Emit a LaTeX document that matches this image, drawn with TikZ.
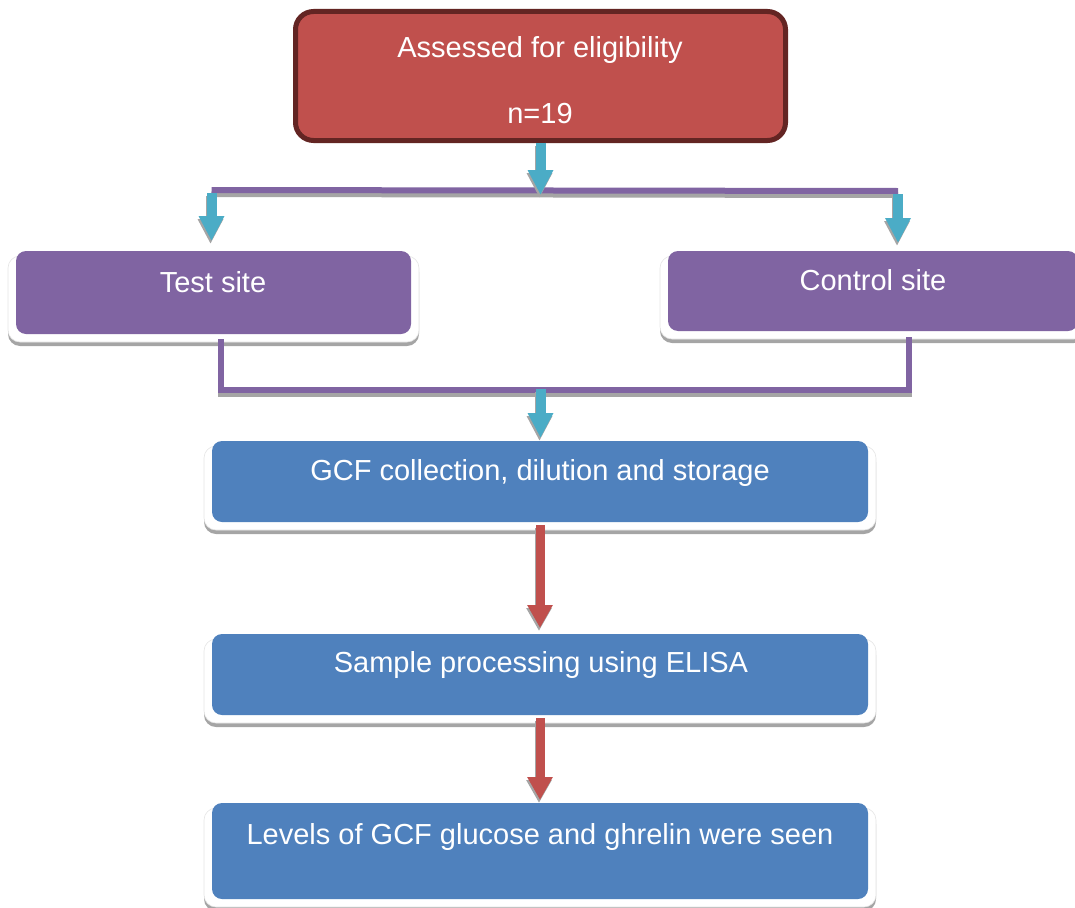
\documentclass[tikz,border=0pt]{standalone}
\usepackage{fontspec}
\setmainfont{Liberation Sans}
\usetikzlibrary{arrows.meta,backgrounds}
\definecolor{cred}{HTML}{C0504D}
\definecolor{cdark}{HTML}{632523}
\definecolor{cpurple}{HTML}{8064A2}
\definecolor{cblue}{HTML}{4F81BD}
\definecolor{ccyan}{HTML}{4BACC6}
\definecolor{cshadow}{HTML}{A5A5A5}
\newcommand{\shadowed}[3]{%
  \draw[#1,draw=cshadow,transform canvas={#2}] #3;
  \draw[#1] #3;}
\begin{document}
\begin{tikzpicture}[x=1pt,y=-1pt,
  box/.style={rectangle, rounded corners=10pt, inner sep=0pt, outer sep=0pt},
  txt/.style={anchor=base, text=white, font=\fontsize{29}{35}\selectfont, inner sep=0pt},
  carrow/.style={draw=ccyan, line width=10pt, -{Triangle[width=24pt,length=25pt]}},
  rarrow/.style={draw=cred, line width=9pt, -{Triangle[width=24pt,length=23pt]}},
  pline/.style={draw=cpurple, line width=6pt},
  frameshadow/.style={fill=cshadow, rounded corners=12pt},
  framewhite/.style={fill=white, draw=black!10, line width=0.6pt, rounded corners=12pt},
]
\useasboundingbox (0,0) rectangle (1075,907);

% boxes
\node[box, draw=cdark, line width=5pt, fill=cred, rounded corners=18pt,
      minimum width=490pt, minimum height=129pt] (top) at (540.5,76) {};
\node[box, fill=cpurple, minimum width=395pt, minimum height=83pt] (test) at (213.5,292.5) {};
\node[box, fill=cpurple, minimum width=410pt, minimum height=80pt] (control) at (873,291) {};
\node[box, fill=cblue, minimum width=656pt, minimum height=81pt] (gcf) at (540,481.5) {};
\node[box, fill=cblue, minimum width=656pt, minimum height=81pt] (sample) at (540,674.5) {};
\node[box, fill=cblue, minimum width=656pt, minimum height=96pt] (levels) at (540,851) {};

% white frames with shadows behind the boxes
\begin{scope}[on background layer]
  \foreach \b in {test,control,gcf,sample,levels}{
    \fill[frameshadow] ([xshift=-8pt,yshift=-9pt]\b.north west) rectangle ([xshift=8pt,yshift=-12pt]\b.south east);
    \filldraw[framewhite] ([xshift=-8pt,yshift=-5pt]\b.north west) rectangle ([xshift=8pt,yshift=-8pt]\b.south east);
  }
\end{scope}

% texts
\node[txt] (t1) at (540,57) {Assessed for eligibility};
\node[txt] (t2) at (540,123) {n=19};
\node[txt] (t3) at (213,292) {Test site};
\node[txt] (t4) at (873,290) {Control site};
\node[txt] (t5) at (540,480) {GCF collection, dilution and storage};
\node[txt] (t6) at (541,672) {Sample processing using ELISA};
\node[txt] (t7) at (540,844) {Levels of GCF glucose and ghrelin were seen};

% junction coordinates
\coordinate (L1) at (211.5,190);
\coordinate (R1) at (898,191);
\coordinate (j1) at (540.5,195);
\coordinate (tb) at (221,339);
\coordinate (cb) at (909,337);
\coordinate (j2) at (540.5,390);

% upper distribution line
\shadowed{pline}{yshift=-4pt}{(L1) -- (R1)}
% arrows to the sites
\shadowed{carrow,shorten >=10pt}{xshift=-1pt,yshift=-3pt}{([yshift=-3pt]L1) -- (L1 |- test.north)}
\shadowed{carrow,shorten >=8pt}{xshift=-1pt,yshift=-3pt}{([yshift=-3pt]R1) -- (R1 |- control.north)}
% arrow from top box
\shadowed{carrow,shorten <=2pt}{xshift=-1pt,yshift=-3pt}{(top.south -| j1) -- (j1)}

% lower merging line
\shadowed{pline}{yshift=-4pt}{(tb) |- (j2) -| (cb)}
\shadowed{carrow,shorten >=3pt}{xshift=-1pt,yshift=-3pt}{([yshift=1pt]j2) -- (j2 |- gcf.north)}

% red arrows
\shadowed{rarrow,shorten <=3pt,shorten >=6pt}{xshift=-1pt,yshift=-3pt}{(gcf.south) -- (sample.north)}
\shadowed{rarrow,shorten <=3pt,shorten >=3pt}{xshift=-1pt,yshift=-3pt}{(sample.south) -- (levels.north)}
\end{tikzpicture}
\end{document}
